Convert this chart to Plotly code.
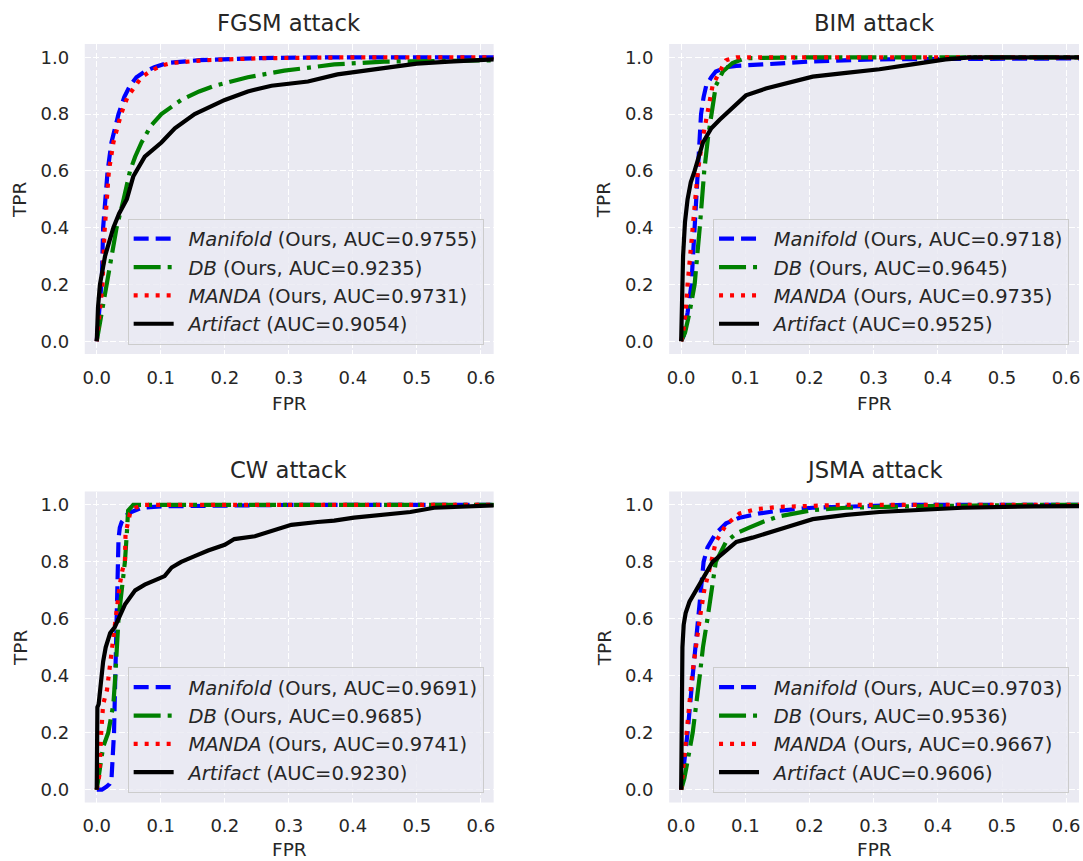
import plotly.graph_objects as go

# ---------------- data ----------------
attacks = ["FGSM attack", "BIM attack", "CW attack", "JSMA attack"]
methods = ["Manifold", "DB", "MANDA", "Artifact"]

# FGSM
fgsm_manifold_fpr = [0, 0.004, 0.008, 0.010, 0.014, 0.017, 0.023, 0.034, 0.043, 0.052, 0.062, 0.075, 0.09, 0.11, 0.16, 0.25, 0.35, 1.0]
fgsm_manifold_tpr = [0, 0.12, 0.22, 0.40, 0.50, 0.60, 0.70, 0.80, 0.86, 0.90, 0.93, 0.95, 0.965, 0.98, 0.99, 0.997, 1.0, 1.0]
fgsm_db_fpr = [0, 0.008, 0.016, 0.023, 0.031, 0.042, 0.052, 0.060, 0.070, 0.085, 0.101, 0.132, 0.16, 0.184, 0.236, 0.293, 0.371, 0.449, 0.527, 0.62, 1.0]
fgsm_db_tpr = [0, 0.10, 0.20, 0.30, 0.40, 0.50, 0.60, 0.65, 0.70, 0.76, 0.80, 0.85, 0.88, 0.90, 0.93, 0.953, 0.975, 0.985, 0.99, 0.997, 1.0]
fgsm_manda_fpr = [0, 0.005, 0.009, 0.012, 0.016, 0.019, 0.026, 0.038, 0.048, 0.060, 0.070, 0.083, 0.10, 0.117, 0.17, 0.26, 0.4, 1.0]
fgsm_manda_tpr = [0, 0.10, 0.20, 0.38, 0.50, 0.60, 0.70, 0.80, 0.86, 0.90, 0.93, 0.95, 0.97, 0.98, 0.99, 0.997, 1.0, 1.0]
fgsm_artifact_fpr = [0, 0.002, 0.005, 0.013, 0.026, 0.035, 0.047, 0.057, 0.075, 0.101, 0.122, 0.153, 0.20, 0.236, 0.273, 0.33, 0.376, 0.449, 0.50, 0.55, 0.62, 1.0]
fgsm_artifact_tpr = [0, 0.12, 0.20, 0.30, 0.40, 0.45, 0.50, 0.58, 0.65, 0.70, 0.75, 0.80, 0.85, 0.88, 0.90, 0.915, 0.94, 0.963, 0.978, 0.985, 0.993, 1.0]
fgsm_auc = [0.9755, 0.9235, 0.9731, 0.9054]

# BIM
bim_manifold_fpr = [0, 0.004, 0.010, 0.016, 0.021, 0.026, 0.031, 0.035, 0.039, 0.047, 0.054, 0.07, 0.086, 0.127, 0.2, 0.3, 0.45, 1.0]
bim_manifold_tpr = [0, 0.02, 0.10, 0.20, 0.40, 0.60, 0.80, 0.86, 0.90, 0.93, 0.95, 0.965, 0.97, 0.975, 0.985, 0.993, 1.0, 1.0]
bim_db_fpr = [0, 0.006, 0.013, 0.021, 0.029, 0.036, 0.042, 0.047, 0.054, 0.065, 0.080, 0.10, 0.2, 1.0]
bim_db_tpr = [0, 0.03, 0.10, 0.20, 0.40, 0.60, 0.72, 0.80, 0.90, 0.95, 0.98, 0.997, 1.0, 1.0]
bim_manda_fpr = [0, 0.003, 0.007, 0.010, 0.018, 0.026, 0.034, 0.041, 0.049, 0.060, 0.070, 0.086, 0.15, 1.0]
bim_manda_tpr = [0, 0.03, 0.10, 0.20, 0.40, 0.60, 0.72, 0.80, 0.90, 0.95, 0.99, 1.0, 1.0, 1.0]
bim_artifact_fpr = [0, 0.001, 0.003, 0.006, 0.010, 0.015, 0.021, 0.034, 0.047, 0.060, 0.070, 0.085, 0.101, 0.132, 0.163, 0.205, 0.257, 0.309, 0.36, 0.412, 0.45, 1.0]
bim_artifact_tpr = [0, 0.15, 0.30, 0.42, 0.50, 0.56, 0.60, 0.70, 0.75, 0.78, 0.80, 0.83, 0.866, 0.89, 0.907, 0.932, 0.945, 0.958, 0.975, 0.993, 1.0, 1.0]
bim_auc = [0.9718, 0.9645, 0.9735, 0.9525]

# CW
cw_manifold_fpr = [0, 0.008, 0.015, 0.020, 0.023, 0.025, 0.027, 0.029, 0.031, 0.033, 0.034, 0.036, 0.039, 0.049, 0.070, 0.10, 0.3, 1.0]
cw_manifold_tpr = [0, 0.0, 0.01, 0.02, 0.035, 0.10, 0.20, 0.40, 0.60, 0.80, 0.88, 0.92, 0.94, 0.97, 0.99, 0.995, 1.0, 1.0]
cw_db_fpr = [0, 0.003, 0.006, 0.010, 0.018, 0.022, 0.026, 0.029, 0.031, 0.034, 0.039, 0.044, 0.047, 0.049, 0.057, 1.0]
cw_db_tpr = [0, 0.05, 0.10, 0.15, 0.20, 0.25, 0.30, 0.40, 0.50, 0.60, 0.70, 0.80, 0.90, 0.98, 1.0, 1.0]
cw_manda_fpr = [0, 0.002, 0.004, 0.007, 0.010, 0.016, 0.021, 0.026, 0.031, 0.036, 0.040, 0.044, 0.045, 0.052, 0.060, 0.075, 1.0]
cw_manda_tpr = [0, 0.02, 0.05, 0.20, 0.30, 0.35, 0.45, 0.55, 0.65, 0.72, 0.77, 0.80, 0.90, 0.97, 0.99, 1.0, 1.0]
cw_artifact_fpr = [0, 0.0005, 0.001, 0.003, 0.007, 0.010, 0.014, 0.021, 0.028, 0.034, 0.044, 0.060, 0.075, 0.096, 0.106, 0.117, 0.132, 0.153, 0.174, 0.20, 0.215, 0.247, 0.278, 0.304, 0.345, 0.371, 0.402, 0.449, 0.49, 0.527, 0.579, 0.62, 1.0]
cw_artifact_tpr = [0, 0.17, 0.29, 0.30, 0.40, 0.45, 0.50, 0.55, 0.57, 0.60, 0.65, 0.70, 0.72, 0.74, 0.75, 0.78, 0.80, 0.82, 0.84, 0.86, 0.88, 0.89, 0.91, 0.93, 0.94, 0.945, 0.955, 0.965, 0.975, 0.99, 0.995, 0.998, 1.0]
cw_auc = [0.9691, 0.9685, 0.9741, 0.9230]

# JSMA
jsma_manifold_fpr = [0, 0.005, 0.010, 0.018, 0.026, 0.031, 0.035, 0.041, 0.054, 0.070, 0.091, 0.122, 0.153, 0.205, 0.35, 1.0]
jsma_manifold_tpr = [0, 0.10, 0.20, 0.40, 0.60, 0.70, 0.80, 0.85, 0.90, 0.935, 0.955, 0.97, 0.98, 0.99, 1.0, 1.0]
jsma_db_fpr = [0, 0.005, 0.010, 0.018, 0.029, 0.034, 0.041, 0.047, 0.054, 0.070, 0.086, 0.106, 0.127, 0.153, 0.205, 0.257, 0.36, 0.55, 1.0]
jsma_db_tpr = [0, 0.04, 0.10, 0.20, 0.40, 0.50, 0.60, 0.70, 0.80, 0.87, 0.90, 0.92, 0.94, 0.96, 0.982, 0.99, 0.995, 1.0, 1.0]
jsma_manda_fpr = [0, 0.004, 0.009, 0.017, 0.029, 0.036, 0.047, 0.054, 0.070, 0.091, 0.117, 0.153, 0.25, 1.0]
jsma_manda_tpr = [0, 0.10, 0.20, 0.40, 0.60, 0.70, 0.80, 0.87, 0.93, 0.97, 0.985, 0.993, 1.0, 1.0]
jsma_artifact_fpr = [0, 0.0005, 0.001, 0.002, 0.004, 0.007, 0.013, 0.023, 0.036, 0.049, 0.065, 0.086, 0.111, 0.143, 0.169, 0.205, 0.257, 0.309, 0.36, 0.438, 0.55, 0.62, 1.0]
jsma_artifact_tpr = [0, 0.25, 0.45, 0.50, 0.58, 0.62, 0.66, 0.70, 0.75, 0.80, 0.83, 0.87, 0.885, 0.905, 0.925, 0.95, 0.965, 0.975, 0.982, 0.99, 0.995, 0.997, 1.0]
jsma_auc = [0.9703, 0.9536, 0.9667, 0.9606]

x_tick_vals = [0.0, 0.1, 0.2, 0.3, 0.4, 0.5, 0.6]
x_tick_text = ["0.0", "0.1", "0.2", "0.3", "0.4", "0.5", "0.6"]
y_tick_vals = [0.0, 0.2, 0.4, 0.6, 0.8, 1.0]
y_tick_text = ["0.0", "0.2", "0.4", "0.6", "0.8", "1.0"]

panels = [
    (fgsm_manifold_fpr, fgsm_manifold_tpr, fgsm_db_fpr, fgsm_db_tpr, fgsm_manda_fpr, fgsm_manda_tpr, fgsm_artifact_fpr, fgsm_artifact_tpr, fgsm_auc),
    (bim_manifold_fpr, bim_manifold_tpr, bim_db_fpr, bim_db_tpr, bim_manda_fpr, bim_manda_tpr, bim_artifact_fpr, bim_artifact_tpr, bim_auc),
    (cw_manifold_fpr, cw_manifold_tpr, cw_db_fpr, cw_db_tpr, cw_manda_fpr, cw_manda_tpr, cw_artifact_fpr, cw_artifact_tpr, cw_auc),
    (jsma_manifold_fpr, jsma_manifold_tpr, jsma_db_fpr, jsma_db_tpr, jsma_manda_fpr, jsma_manda_tpr, jsma_artifact_fpr, jsma_artifact_tpr, jsma_auc),
]

# ---------------- styling ----------------
W, H = 1083, 861
FONT = "DejaVu Sans"
TXT = "#262626"
LW = 4.2
styles = [
    dict(color="#0000ff", width=LW, dash="15px,7px"),
    dict(color="#008000", width=LW, dash="27px,7px,4px,7px"),
    dict(color="#ff0000", width=LW, dash="4px,7px"),
    dict(color="#000000", width=LW, dash="solid"),
]

# plot areas in pixels: (left, right, top, bottom)
boxes = [
    (83, 493, 44, 354),
    (669, 1080, 44, 354),
    (83, 493, 491.5, 802.5),
    (669, 1080, 491.5, 802.5),
]

GAP = "\u2002"  # spacing between legend sample and label

fig = go.Figure()
layout = dict(
    width=W, height=H,
    margin=dict(l=0, r=0, t=0, b=0),
    paper_bgcolor="white",
    plot_bgcolor="#EAEAF2",
    font=dict(family=FONT, color=TXT),
    annotations=[],
    showlegend=True,
)

for i, (panel, box) in enumerate(zip(panels, boxes)):
    l, r, t, b = box
    n = "" if i == 0 else str(i + 1)
    xa, ya = "x" + n, "y" + n
    leg = "legend" + n
    aucs = panel[8]
    names = [
        f"{GAP}<i>Manifold</i> (Ours, AUC={aucs[0]:.4f})",
        f"{GAP}<i>DB</i> (Ours, AUC={aucs[1]:.4f})",
        f"{GAP}<i>MANDA</i> (Ours, AUC={aucs[2]:.4f})",
        f"{GAP}<i>Artifact</i> (AUC={aucs[3]:.4f})",
    ]
    for k in range(4):
        fig.add_trace(go.Scatter(
            x=panel[2 * k], y=panel[2 * k + 1], mode="lines",
            line=styles[k], name=names[k], xaxis=xa, yaxis=ya,
            legend=leg, hoverinfo="skip",
        ))
    layout["xaxis" + n] = dict(
        domain=[l / W, r / W], anchor=ya, range=[-0.0187, 0.62],
        tickvals=x_tick_vals, ticktext=x_tick_text,
        showgrid=True, gridcolor="white", gridwidth=1.4, griddash="6px,2.5px",
        zeroline=False, showline=False,
        ticks="outside", ticklen=7, tickcolor="rgba(0,0,0,0)",
        tickfont=dict(family=FONT, size=18, color=TXT),
    )
    layout["yaxis" + n] = dict(
        domain=[1 - b / H, 1 - t / H], anchor=xa, range=[-0.045, 1.047],
        tickvals=y_tick_vals, ticktext=y_tick_text,
        showgrid=True, gridcolor="white", gridwidth=1.4, griddash="6px,2.5px",
        zeroline=False, showline=False,
        ticks="outside", ticklen=11, tickcolor="rgba(0,0,0,0)",
        tickfont=dict(family=FONT, size=18, color=TXT),
    )
    layout[leg] = dict(
        x=(r - 10) / W, y=1 - (b - 9.5) / H, xanchor="right", yanchor="bottom",
        xref="paper", yref="paper",
        bgcolor="rgba(234,234,242,0.8)", bordercolor="#cccccc", borderwidth=1,
        font=dict(family=FONT, size=19.5, color=TXT),
        itemwidth=40, traceorder="normal",
    )
    cx = (l + r) / 2
    fpr_y = min(1 - (b + 49.5) / H, 1 - (b + 50) / H)
    layout["annotations"] += [
        dict(text=attacks[i], x=cx / W, y=1 - (t - 21) / H, xref="paper", yref="paper",
             showarrow=False, xanchor="center", yanchor="middle",
             font=dict(family=FONT, size=22.7, color=TXT)),
        dict(text="FPR", x=cx / W, y=max(fpr_y, 0.0) if i < 2 else 0.0, xref="paper", yref="paper",
             showarrow=False, xanchor="center",
             yanchor="middle" if i < 2 else "bottom", borderpad=0,
             font=dict(family=FONT, size=18.5, color=TXT)),
        dict(text="TPR", x=(l - 65) / W, y=1 - ((t + b) / 2 + 1) / H, xref="paper", yref="paper",
             showarrow=False, xanchor="center", yanchor="middle", textangle=-90,
             font=dict(family=FONT, size=18.5, color=TXT)),
    ]

fig.update_layout(**layout)
fig.write_html("out.html")
